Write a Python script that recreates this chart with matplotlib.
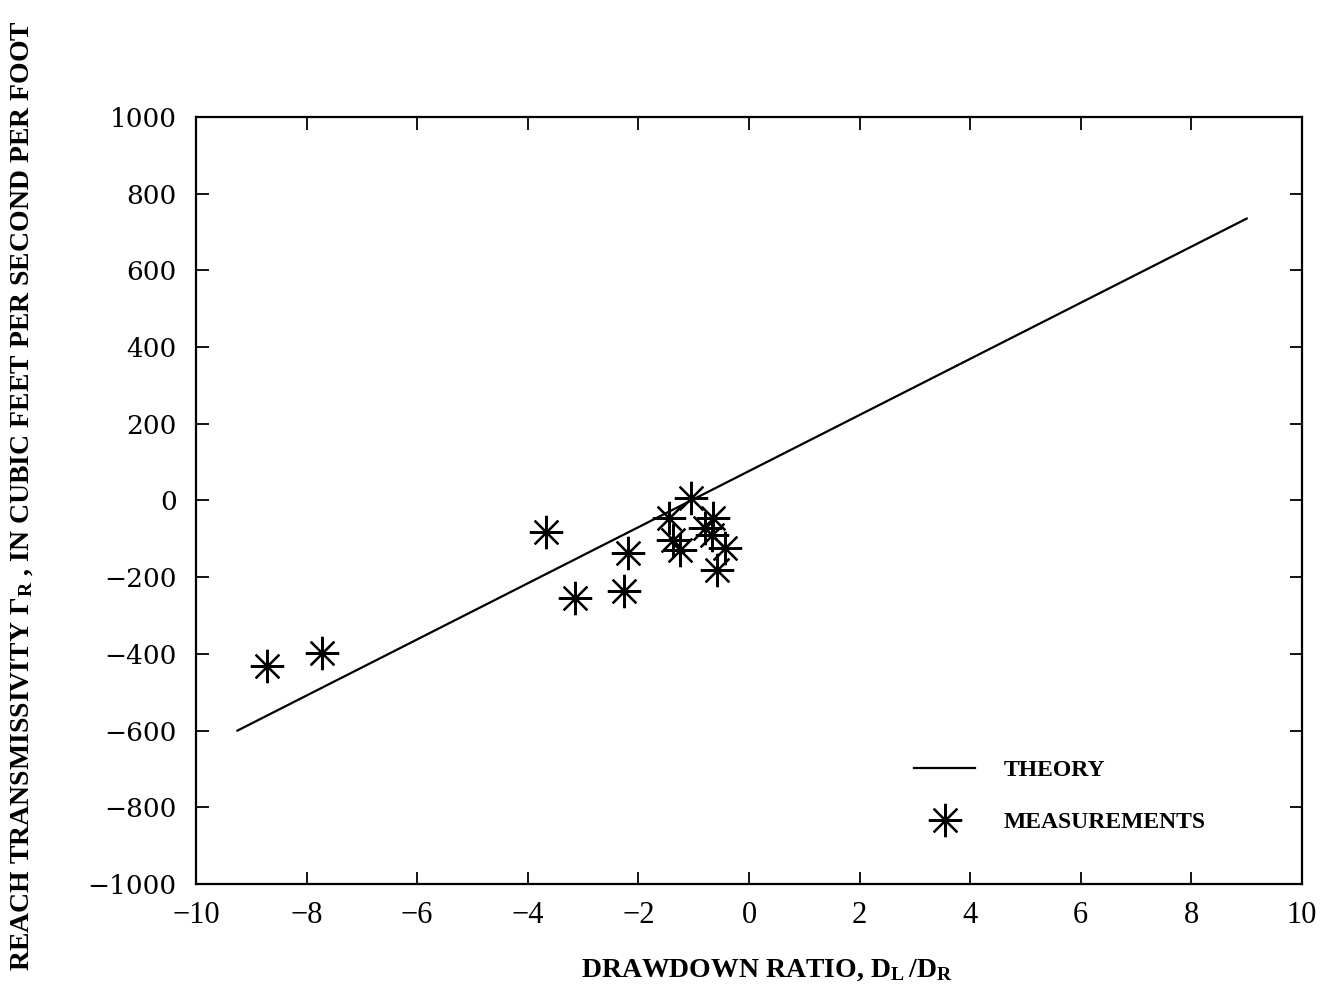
import numpy as np
import matplotlib.pyplot as plt

plt.rcParams['mathtext.fontset'] = 'custom'
plt.rcParams['mathtext.rm'] = 'Liberation Serif'
plt.rcParams['mathtext.bf'] = 'Liberation Serif:bold'

# theory line end points
theory_x = [-9.25, 9.0]
theory_y = [-600, 735]

# measured points
meas_x = [-8.72, -7.72, -3.67, -3.15, -2.19, -2.26, -1.05, -1.45, -1.37,
          -1.25, -0.65, -0.80, -0.67, -0.43, -0.58]
meas_y = [-432, -398, -82, -254, -137, -236, 7, -46, -103,
          -129, -46, -72, -90, -124, -181]

xticks = np.arange(-10, 11, 2)
yticks = np.arange(-1000, 1001, 200)

fig = plt.figure(figsize=(13.26, 10.08), dpi=100)
ax = fig.add_axes([0.1478, 0.123, 0.8341, 0.761])

ax.plot(theory_x, theory_y, color='black', lw=1.6, label='THEORY')
ax.plot(meas_x, meas_y, ls='none', marker=(8, 2, 0), ms=24, mew=1.6,
        color='black', label='MEASUREMENTS')

ax.set_xlim(-10, 10)
ax.set_ylim(-1000, 1000)
ax.set_xticks(xticks)
ax.set_yticks(yticks)
ax.set_xticklabels([str(t).replace('-', '\u2212') for t in xticks],
                   fontfamily='Liberation Serif', fontsize=22)
ax.set_yticklabels([str(t).replace('-', '\u2212') for t in yticks],
                   fontfamily='DejaVu Serif', fontsize=19)
ax.tick_params(direction='in', length=9, width=1.3, top=True, right=True)
ax.tick_params(axis='x', pad=12)
ax.tick_params(axis='y', pad=14)
for s in ax.spines.values():
    s.set_linewidth(1.6)

leg = ax.legend(loc='upper left', bbox_to_anchor=(0.63, 0.19), frameon=False,
                handlelength=2.6, handletextpad=1.2, labelspacing=1.3,
                prop={'family': 'Liberation Serif', 'weight': 'bold', 'size': 17})

fig.text(0.578, 0.038, r'DRAWDOWN RATIO, $\mathbf{D_L\,/D_R}$',
         ha='center', va='center', fontfamily='Liberation Serif',
         fontweight='bold', fontsize=20)
fig.text(0.017, 0.508,
         r'REACH TRANSMISSIVITY $\mathbf{\Gamma_R}$ , IN CUBIC FEET PER SECOND PER FOOT',
         ha='center', va='center', rotation=90, fontfamily='Liberation Serif',
         fontweight='bold', fontsize=20)

fig.savefig('out.png', dpi=100)
